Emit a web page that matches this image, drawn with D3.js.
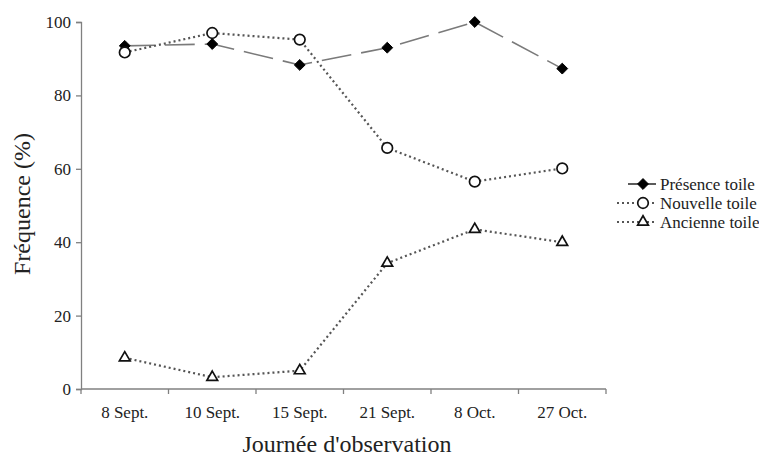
<!DOCTYPE html>
<html>
<head>
<meta charset="utf-8">
<script src="https://cdn.jsdelivr.net/npm/d3@7"></script>
<style>
  body { margin: 0; background: #fff; }
  text { font-family: "Liberation Serif", "Times New Roman", serif; fill: #222; }
</style>
</head>
<body>
<script>
'use strict';

// data
const days = ["8 Sept.", "10 Sept.", "15 Sept.", "21 Sept.", "8 Oct.", "27 Oct."];
const presence = [93.5, 94, 88.3, 93, 100, 87.3];
const nouvelle = [91.7, 97, 95.2, 65.7, 56.5, 60.1];
const ancienne = [8.5, 3.2, 5, 34.3, 43.5, 40];
const yTicks = [0, 20, 40, 60, 80, 100];

(function() {
  const width = 759, height = 457;
  const svg = d3.select('body').append('svg')
    .attr('width', width)
    .attr('height', height);

  // scales
  const x = d3.scaleBand().domain(days).range([81, 606]);
  const y = d3.scaleLinear().domain([0, 100]).range([389, 22]);
  const cx = d => x(d) + x.bandwidth() / 2;

  const axisColor = '#808080';

  // y axis
  const yAxis = svg.append('g')
    .attr('transform', 'translate(81,0)')
    .call(d3.axisLeft(y).tickValues(yTicks).tickSize(5).tickPadding(5));
  yAxis.selectAll('path, line').attr('stroke', axisColor).attr('stroke-width', 1.3);
  yAxis.selectAll('text').style('font-size', '17px').attr('fill', '#222');

  // x axis: ticks on category boundaries
  const xAxis = svg.append('g').attr('transform', 'translate(0,389)');
  xAxis.append('line')
    .attr('x1', 81).attr('x2', 606)
    .attr('stroke', axisColor).attr('stroke-width', 1.3);
  xAxis.selectAll('.tk')
    .data(days.concat(['end']))
    .enter().append('line')
    .attr('x1', (d, i) => i < days.length ? x(d) : x.range()[1])
    .attr('x2', (d, i) => i < days.length ? x(d) : x.range()[1])
    .attr('y1', 0).attr('y2', 5)
    .attr('stroke', axisColor).attr('stroke-width', 1.3);
  xAxis.selectAll('.lbl')
    .data(days)
    .enter().append('text')
    .attr('x', cx)
    .attr('y', 29)
    .attr('text-anchor', 'middle')
    .style('font-size', '17px')
    .text(d => d);

  // axis titles
  svg.append('text')
    .attr('x', 347).attr('y', 452)
    .attr('text-anchor', 'middle')
    .style('font-size', '24px')
    .text("Journée d'observation");
  svg.append('text')
    .attr('transform', 'translate(30,204) rotate(-90)')
    .attr('text-anchor', 'middle')
    .style('font-size', '24px')
    .text('Fréquence (%)');

  const series = [
    { name: 'Présence toile', values: presence, dash: '30,10', color: '#7a7a7a', width: 1.6, marker: 'diamond' },
    { name: 'Nouvelle toile', values: nouvelle, dash: '2,3', color: '#555', width: 2.2, marker: 'circle' },
    { name: 'Ancienne toile', values: ancienne, dash: '2,3', color: '#555', width: 2.2, marker: 'triangle' }
  ];

  const line = d3.line().x(d => cx(d.day)).y(d => y(d.v));

  function drawMarker(g, type) {
    if (type === 'diamond') {
      g.append('path')
        .attr('d', d3.symbol().type(d3.symbolDiamond2).size(75))
        .attr('fill', '#000').attr('stroke', '#000').attr('stroke-width', 1);
    } else if (type === 'circle') {
      g.append('circle').attr('r', 5.3)
        .attr('fill', '#fff').attr('stroke', '#111').attr('stroke-width', 1.7);
    } else {
      g.append('path')
        .attr('d', d3.symbol().type(d3.symbolTriangle).size(50))
        .attr('fill', '#fff').attr('stroke', '#111').attr('stroke-width', 1.7);
    }
  }

  series.forEach(s => {
    const pts = s.values.map((v, i) => ({ day: days[i], v: v }));
    svg.append('path')
      .datum(pts)
      .attr('d', line)
      .attr('fill', 'none')
      .attr('stroke', s.color)
      .attr('stroke-width', s.width)
      .attr('stroke-dasharray', s.dash);
    pts.forEach(p => {
      const g = svg.append('g').attr('transform', `translate(${cx(p.day)},${y(p.v)})`);
      drawMarker(g, s.marker);
    });
  });

  // legend
  const legend = svg.append('g').attr('transform', 'translate(0,184)');
  series.forEach((s, i) => {
    const solid = s.marker === 'diamond';
    const row = legend.append('g').attr('transform', `translate(0,${i * 19})`);
    row.append('line')
      .attr('x1', solid ? 628 : 617).attr('x2', 656)
      .attr('stroke', solid ? '#333' : s.color)
      .attr('stroke-width', solid ? 1.6 : 2)
      .attr('stroke-dasharray', solid ? null : '2,3');
    const m = row.append('g').attr('transform', 'translate(643,0)');
    drawMarker(m, s.marker);
    row.append('text')
      .attr('x', 660).attr('y', 5.5)
      .style('font-size', '17px')
      .text(s.name);
  });
})();
</script>
</body>
</html>
